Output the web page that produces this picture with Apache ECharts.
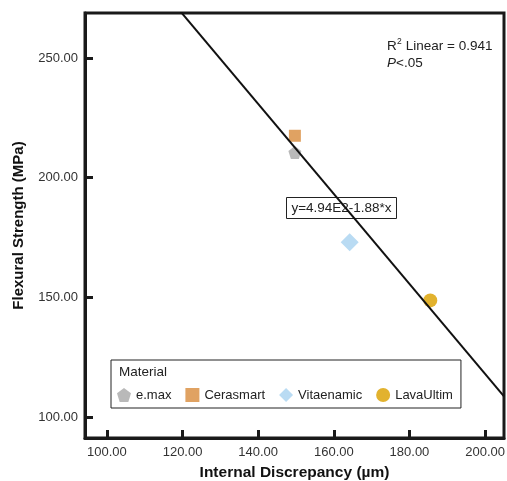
<!DOCTYPE html>
<html>
<head>
<meta charset="utf-8">
<script src="https://cdn.jsdelivr.net/npm/echarts@6/dist/echarts.min.js"></script>
<style>html,body{margin:0;padding:0;background:#fff;}#c{width:507px;height:481px;}</style>
</head>
<body>
<div id="c"></div>
<script>
const materials = ['e.max', 'Cerasmart', 'Vitaenamic', 'LavaUltim'];
const discrepancy = [149.7, 149.7, 164.2, 185.5];
const strength = [210.5, 217.5, 173.0, 148.7];
const xTicks = [100, 120, 140, 160, 180, 200];
const yTicks = [100, 150, 200, 250];
const fitIntercept = 494;
const fitSlope = -1.88;
const xRange = [94.2, 205];
const yRange = [91.2, 268.8];

const colors = ['#b9b9b9', '#e0a262', '#b9dbf3', '#e2b22e'];
const symbols = ['path://M50,0 L100,38 L81,100 L19,100 L0,38 Z', 'rect', 'diamond', 'circle'];
const sizes = [13, 12, 18, 14];

const font = '"Liberation Sans", Arial, sans-serif';
const chart = echarts.init(document.getElementById('c'));

const series = materials.map((m, i) => ({
  name: m,
  type: 'scatter',
  data: [[discrepancy[i], strength[i]]],
  symbol: symbols[i],
  symbolSize: sizes[i],
  itemStyle: { color: colors[i], opacity: 1 },
  z: 2
}));
series.push({
  name: 'fit',
  type: 'line',
  data: xRange.map(x => [x, fitIntercept + fitSlope * x]),
  symbol: 'none',
  clip: true,
  lineStyle: { color: '#111', width: 2 },
  z: 3,
  silent: true
});

chart.setOption({
  animation: false,
  textStyle: { fontFamily: font },
  grid: { left: 85, right: 3, top: 13, bottom: 43, outerBoundsMode: 'none', containLabel: false, show: true, borderColor: '#1a1a1a', borderWidth: 3, backgroundColor: 'transparent' },
  xAxis: {
    type: 'value', min: xRange[0], max: xRange[1],
    name: 'Internal Discrepancy (µm)', nameLocation: 'middle', nameGap: 27,
    nameTextStyle: { fontFamily: font, fontSize: 15.5, fontWeight: 'bold', color: '#111' },
    axisLine: { show: true, lineStyle: { color: '#1a1a1a', width: 3 } },
    axisTick: { show: true, inside: true, length: 8, lineStyle: { color: '#1a1a1a', width: 3 }, customValues: xTicks },
    axisLabel: { margin: 8, fontSize: 13, color: '#333', customValues: xTicks, formatter: v => v.toFixed(2) },
    splitLine: { show: false }
  },
  yAxis: {
    type: 'value', min: yRange[0], max: yRange[1],
    name: 'Flexural Strength (MPa)', nameLocation: 'middle', nameGap: 59,
    nameTextStyle: { fontFamily: font, fontSize: 15, fontWeight: 'bold', color: '#111' },
    axisLine: { show: true, lineStyle: { color: '#1a1a1a', width: 3 } },
    axisTick: { show: true, inside: true, length: 8, lineStyle: { color: '#1a1a1a', width: 3 }, customValues: yTicks },
    axisLabel: { margin: 7, fontSize: 13, color: '#333', customValues: yTicks, formatter: v => v.toFixed(2) },
    splitLine: { show: false }
  },
  legend: {
    data: materials.map((m, i) => ({ name: m, icon: symbols[i], itemStyle: { color: colors[i] } })),
    left: 111, top: 360, width: 360,
    orient: 'horizontal',
    padding: [28, 8, 6, 6],
    borderColor: '#222', borderWidth: 1,
    itemWidth: 14, itemHeight: 14, itemGap: 14,
    textStyle: { fontSize: 13, color: '#222', fontFamily: font }
  },
  graphic: [
    { type: 'text', left: 119, top: 365, style: { text: 'Material', fontSize: 13.5, fill: '#222', fontFamily: font } },
    { type: 'text', left: 387, top: 39, style: { text: 'R', fontSize: 13.5, fill: '#222', fontFamily: font } },
    { type: 'text', left: 397, top: 37, style: { text: '2', fontSize: 8.5, fill: '#222', fontFamily: font } },
    { type: 'text', left: 402, top: 39, style: { text: ' Linear = 0.941', fontSize: 13.5, fill: '#222', fontFamily: font } },
    {
      type: 'text', left: 387, top: 56,
      style: {
        text: '{i|P}{n|<.05}',
        rich: {
          i: { fontSize: 13.5, fontStyle: 'italic', fill: '#222', fontFamily: font },
          n: { fontSize: 13.5, fill: '#222', fontFamily: font }
        }
      }
    },
    {
      type: 'group', left: 286, top: 197,
      children: [
        { type: 'rect', shape: { x: 0, y: 0, width: 110, height: 21 }, style: { fill: '#fff', stroke: '#222', lineWidth: 1 } },
        { type: 'text', x: 55, y: 11, style: { text: 'y=4.94E2-1.88*x', fontSize: 13.5, fill: '#222', fontFamily: font, align: 'center', verticalAlign: 'middle' } }
      ]
    }
  ],
  series: series
});
</script>
</body>
</html>
